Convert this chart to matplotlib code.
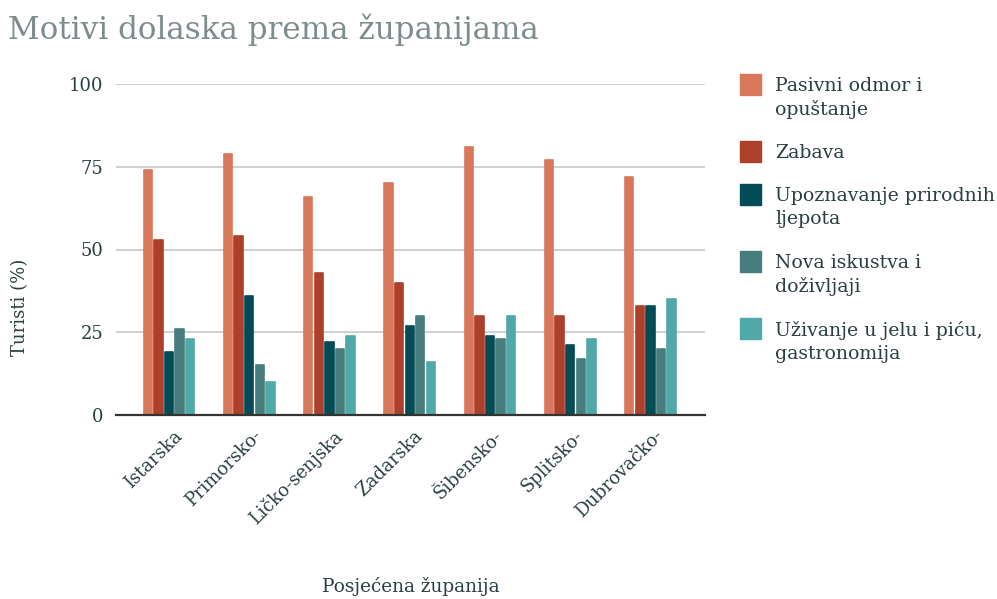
import numpy as np
import matplotlib.pyplot as plt
from matplotlib.patches import Rectangle
from matplotlib.transforms import ScaledTranslation

# Data
zupanije = ["Istarska", "Primorsko-", "Ličko-senjska", "Zadarska",
            "Šibensko-", "Splitsko-", "Dubrovačko-"]
pasivni = [74, 79, 66, 70, 81, 77, 72]
zabava = [53, 54, 43, 40, 30, 30, 33]
priroda = [19, 36, 22, 27, 24, 21, 33]
iskustva = [26, 15, 20, 30, 23, 17, 20]
gastro = [23, 10, 24, 16, 30, 23, 35]

serije = [pasivni, zabava, priroda, iskustva, gastro]
nazivi = ["Pasivni odmor i\nopuštanje", "Zabava", "Upoznavanje prirodnih\nljepota",
          "Nova iskustva i\ndoživljaji", "Uživanje u jelu i piću,\ngastronomija"]
boje = ["#D9775A", "#AD402A", "#034B55", "#477E7D", "#51A8A8"]

plt.rcParams['font.family'] = ['DejaVu Serif']
txt = "#2B3F42"

fig = plt.figure(figsize=(9.97, 5.99), dpi=100)
ax = fig.add_axes([116/997, 1 - 415/599, 589/997, 331/599])

x = np.arange(len(zupanije))
pitch = 0.132
w = 0.104
for i, (vals, c) in enumerate(zip(serije, boje)):
    ax.bar(x + (i - 2) * pitch, vals, width=w, color=c, edgecolor=c,
           linewidth=1.2, joinstyle="round", zorder=3)

ax.set_xlim(-0.66, 6.68)
ax.set_ylim(0, 100)
ax.set_yticks([0, 25, 50, 75, 100])
ax.grid(axis="y", color="#D0D0D0", linewidth=1.4, zorder=0)
for s in ["top", "right", "left"]:
    ax.spines[s].set_visible(False)
ax.spines["bottom"].set_color("#333333")
ax.spines["bottom"].set_linewidth(1.6)
ax.spines["bottom"].set_zorder(4)
ax.tick_params(axis="y", length=0, pad=9, labelsize=13, labelcolor=txt)
ax.tick_params(axis="x", length=0, pad=7, labelsize=13, labelcolor=txt)
ax.set_xticks(x)
ax.set_xticklabels(zupanije, rotation=45, ha="right", rotation_mode="anchor")
shift = ScaledTranslation(4/100, -2/100, fig.dpi_scale_trans)
for lab in ax.get_xticklabels():
    lab.set_transform(lab.get_transform() + shift)

fig.text(20/997, 1 - 307/599, "Turisti (%)", rotation=90, ha="center", va="center",
         fontsize=13, color=txt)
fig.text(411/997, 1 - 586/599, "Posjećena županija", ha="center", va="center",
         fontsize=13.3, color=txt)
fig.text(8/997, 1 - 39/599, "Motivi dolaska prema županijama", ha="left", va="baseline",
         fontsize=22.3, color="#7F8C8D")

# Legend drawn by hand
y_top = [74, 141, 184, 251, 318]
for yt, naziv, c in zip(y_top, nazivi, boje):
    fig.add_artist(Rectangle((740/997, 1 - (yt + 21)/599), 21/997, 21/599,
                             transform=fig.transFigure, color=c))
    fig.text(775/997, 1 - (yt + 3)/599, naziv, ha="left", va="top",
             fontsize=13.6, color=txt, linespacing=1.33)

fig.savefig("out.png", dpi=100)
